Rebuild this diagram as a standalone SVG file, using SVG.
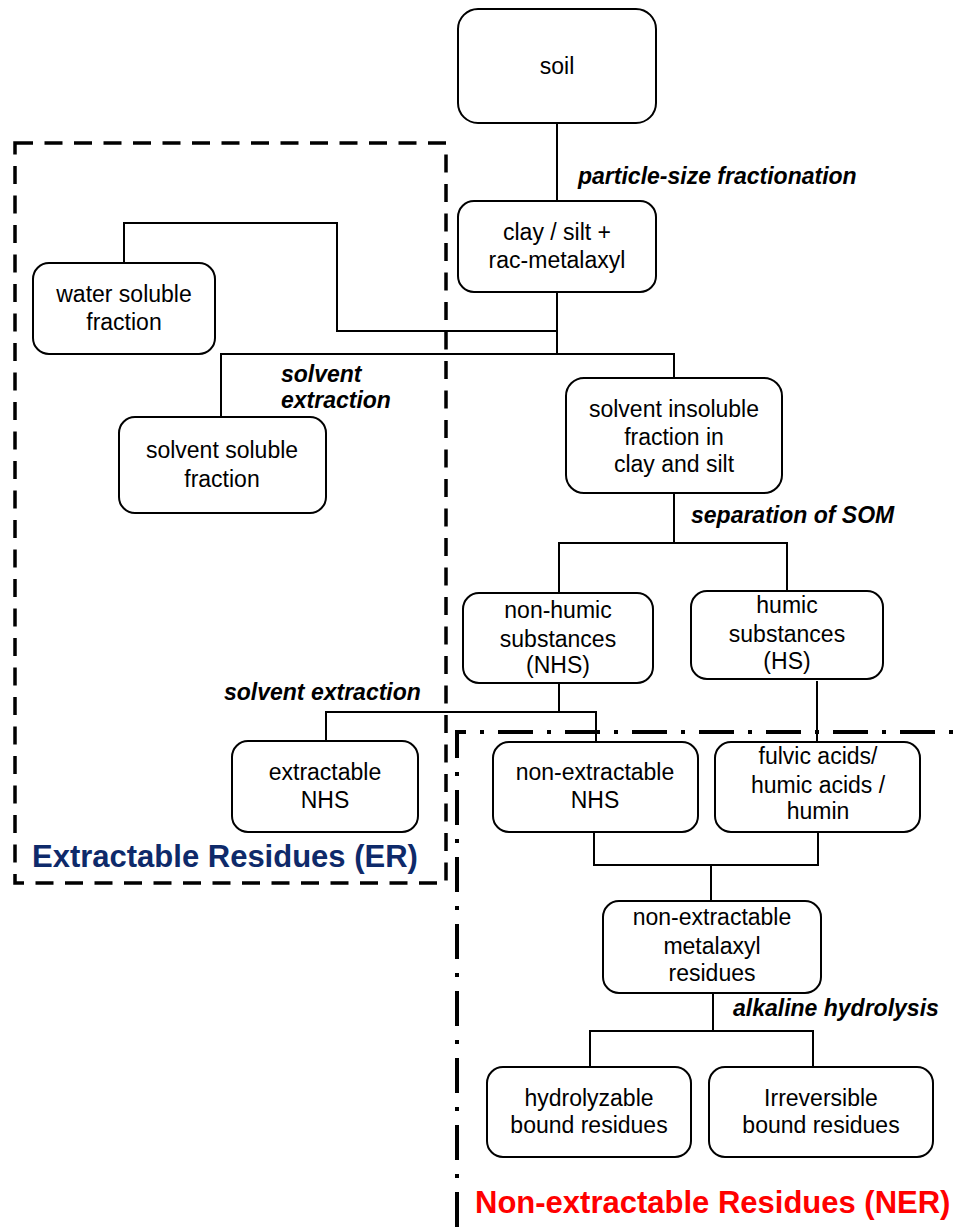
<svg xmlns="http://www.w3.org/2000/svg" width="966" height="1227" viewBox="0 0 966 1227">
<style>
.box{fill:#fff;stroke:#000;stroke-width:2}
.t{font-family:"Liberation Sans",Arial,sans-serif;font-size:23px;fill:#000;text-anchor:middle}
.lab{font-family:"Liberation Sans",Arial,sans-serif;font-size:23px;font-weight:bold;font-style:italic;fill:#000}
.c{fill:none;stroke:#000;stroke-width:2}
.leg{font-family:"Liberation Sans",Arial,sans-serif;font-size:31px;font-weight:bold}
</style>
<rect width="966" height="1227" fill="#fff"/>
<g id="regions">
<rect id="er-region" x="15" y="143" width="431" height="740" fill="none" stroke="#000" stroke-width="3.5" stroke-dasharray="18 11.5"/>
<path id="ner-region" d="M457 1227 V732 H966" fill="none" stroke="#000" stroke-width="4" stroke-dasharray="35 14 4 14"/>
</g>
<g id="connectors">
<path class="c" d="M557 123 V201"/>
<path class="c" d="M557 292 V354" stroke-width="2.5"/>
<path class="c" d="M557 331 H337 V223 H124 V263"/>
<path class="c" d="M221 417 V354 H674 V378"/>
<path class="c" d="M674 493 V543"/>
<path class="c" d="M559 593 V543 H787 V591"/>
<path class="c" d="M559 683 V712"/>
<path class="c" d="M326 741 V712 H596 V742"/>
<path class="c" d="M817 681 V742"/>
<path class="c" d="M594 832 V865 H818 V832"/>
<path class="c" d="M711 865 V901"/>
<path class="c" d="M713 993 V1031"/>
<path class="c" d="M590 1067 V1031 H813 V1067"/>
</g>
<g id="labels">
<text class="lab" x="578" y="184">particle-size fractionation</text>
<text class="lab" x="281" y="382">solvent</text>
<text class="lab" x="281" y="408">extraction</text>
<text class="lab" x="691" y="523">separation of SOM</text>
<text class="lab" x="224" y="700">solvent extraction</text>
<text class="lab" x="733" y="1016">alkaline hydrolysis</text>
</g>
<g id="soil"><rect class="box" x="458" y="9" width="198" height="114" rx="20"/><text class="t" x="557" y="74">soil</text></g>
<g id="clay-silt"><rect class="box" x="458" y="201" width="198" height="91" rx="16"/><text class="t" x="557" y="240">clay / silt +</text><text class="t" x="557" y="268">rac-metalaxyl</text></g>
<g id="water-soluble"><rect class="box" x="33" y="263" width="182" height="91" rx="16"/><text class="t" x="124" y="302">water soluble</text><text class="t" x="124" y="330">fraction</text></g>
<g id="solvent-soluble"><rect class="box" x="119" y="417" width="207" height="96" rx="16"/><text class="t" x="222" y="458">solvent soluble</text><text class="t" x="222" y="487">fraction</text></g>
<g id="solvent-insoluble"><rect class="box" x="566" y="378" width="216" height="115" rx="18"/><text class="t" x="674" y="417">solvent insoluble</text><text class="t" x="674" y="445">fraction in</text><text class="t" x="674" y="472">clay and silt</text></g>
<g id="nhs"><rect class="box" x="463" y="593" width="190" height="90" rx="16"/><text class="t" x="558" y="618">non-humic</text><text class="t" x="558" y="647">substances</text><text class="t" x="558" y="673">(NHS)</text></g>
<g id="hs"><rect class="box" x="691" y="591" width="192" height="88" rx="16"/><text class="t" x="787" y="613">humic</text><text class="t" x="787" y="642">substances</text><text class="t" x="787" y="669">(HS)</text></g>
<g id="extractable-nhs"><rect class="box" x="232" y="741" width="186" height="91" rx="16"/><text class="t" x="325" y="780">extractable</text><text class="t" x="325" y="808">NHS</text></g>
<g id="non-extractable-nhs"><rect class="box" x="493" y="742" width="205" height="90" rx="16"/><text class="t" x="595" y="780">non-extractable</text><text class="t" x="595" y="808">NHS</text></g>
<g id="fulvic"><rect class="box" x="715" y="742" width="205" height="90" rx="16"/><text class="t" x="818" y="764">fulvic acids/</text><text class="t" x="818" y="793">humic acids /</text><text class="t" x="818" y="819">humin</text></g>
<g id="ne-metalaxyl"><rect class="box" x="603" y="901" width="218" height="92" rx="16"/><text class="t" x="712" y="925">non-extractable</text><text class="t" x="712" y="954">metalaxyl</text><text class="t" x="712" y="981">residues</text></g>
<g id="hydrolyzable"><rect class="box" x="487" y="1067" width="204" height="90" rx="16"/><text class="t" x="589" y="1106">hydrolyzable</text><text class="t" x="589" y="1133">bound residues</text></g>
<g id="irreversible"><rect class="box" x="709" y="1067" width="224" height="90" rx="16"/><text class="t" x="821" y="1106">Irreversible</text><text class="t" x="821" y="1133">bound residues</text></g>
<g id="legend">
<text class="leg" x="32" y="867" fill="#0e2a6a">Extractable Residues (ER)</text>
<text class="leg" x="475" y="1213" fill="#ff0000">Non-extractable Residues (NER)</text>
</g>
</svg>
